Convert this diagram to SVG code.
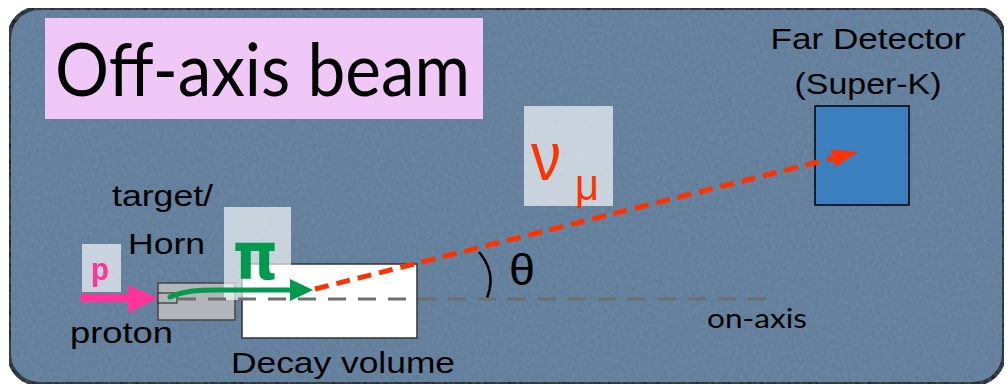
<svg xmlns="http://www.w3.org/2000/svg" width="1006" height="387" viewBox="0 0 1006 387">
<defs>
<filter id="tex" x="0" y="0" width="100%" height="100%">
<feTurbulence type="fractalNoise" baseFrequency="0.25" numOctaves="2" seed="3" result="n"/>
<feColorMatrix in="n" type="matrix" values="0 0 0 0 0.36  0 0 0 0 0.48  0 0 0 0 0.6  0 0 0 0.18 0" result="c"/>
<feComposite in="c" in2="SourceGraphic" operator="in" result="m"/>
<feMerge><feMergeNode in="SourceGraphic"/><feMergeNode in="m"/></feMerge>
</filter>
</defs>
<style>
.lbl{font-family:"Liberation Sans","DejaVu Sans",sans-serif;fill:#000;}
.gill{font-family:Lato,"Liberation Sans",sans-serif;fill:#000;}
.glass{fill:#ffffff;fill-opacity:0.65;}
</style>
<rect width="1006" height="387" fill="#ffffff"/>
<g id="frame">
<rect x="9" y="8" width="995" height="376" rx="30" ry="30" fill="#5d7a98" stroke="#000" stroke-width="4" filter="url(#tex)"/>
</g>
<g id="title">
<rect x="45" y="18" width="438" height="101" fill="#f0c8f8"/>
<text class="gill" x="55" y="96" font-size="74" textLength="415" lengthAdjust="spacingAndGlyphs">Off-axis beam</text>
</g>
<g id="far-detector">
<text class="lbl" x="868" y="49" font-size="30" text-anchor="middle" textLength="195" lengthAdjust="spacingAndGlyphs">Far Detector</text>
<text class="lbl" x="868" y="94" font-size="30" text-anchor="middle" textLength="147" lengthAdjust="spacingAndGlyphs">(Super-K)</text>
<rect x="815" y="106" width="94" height="99" fill="#3b7fbe" stroke="#000" stroke-width="1.5"/>
</g>
<g id="decay-volume">
<rect x="242" y="264" width="175" height="74" fill="#ffffff" stroke="#333" stroke-width="1.5"/>
<text class="lbl" x="231" y="373" font-size="30" textLength="224" lengthAdjust="spacingAndGlyphs">Decay volume</text>
</g>
<g id="target-horn">
<rect x="158" y="283" width="77" height="37" fill="#b2b5b9" stroke="#444" stroke-width="1.5"/>
<rect x="158" y="293" width="19" height="10" fill="#b2b5b9" stroke="#333" stroke-width="1.2"/>
<text class="lbl" x="112" y="206" font-size="29" textLength="101" lengthAdjust="spacingAndGlyphs">target/</text>
<text class="lbl" x="128" y="254" font-size="29" textLength="77" lengthAdjust="spacingAndGlyphs">Horn</text>
</g>
<g id="proton">
<rect class="glass" x="82" y="244" width="39" height="48"/>
<text x="91" y="280" font-family="Liberation Sans, sans-serif" font-weight="bold" font-size="32" fill="#ff3399" textLength="18" lengthAdjust="spacingAndGlyphs">p</text>
<text class="lbl" x="70" y="343" font-size="30" textLength="103" lengthAdjust="spacingAndGlyphs">proton</text>
</g>
<g id="pion">
<rect class="glass" x="224" y="207" width="67" height="93"/>
<text x="233" y="279" font-family="DejaVu Sans, sans-serif" font-weight="bold" font-size="66" fill="#009a4e" textLength="45" lengthAdjust="spacingAndGlyphs">π</text>
</g>
<g id="neutrino">
<rect class="glass" x="524" y="106" width="89" height="100"/>
<text x="531" y="180" font-family="Liberation Sans, sans-serif" font-size="68" fill="#ff3300" textLength="30" lengthAdjust="spacingAndGlyphs">ν</text>
<text x="575" y="200" font-family="Liberation Sans, sans-serif" font-size="44" fill="#ff3300" textLength="24" lengthAdjust="spacingAndGlyphs">μ</text>
</g>
<g id="angle">
<path d="M479,252 Q497,273 487,298" fill="none" stroke="#000" stroke-width="2.5"/>
<text class="lbl" x="509" y="285" font-size="44" textLength="26" lengthAdjust="spacingAndGlyphs">θ</text>
</g>
<g id="on-axis">
<text class="gill" x="707" y="328" font-size="27" textLength="100" lengthAdjust="spacingAndGlyphs">on-axis</text>
</g>
<g id="connectors">
<line x1="178" y1="299" x2="778" y2="299" stroke="#6e6e6e" stroke-width="3" stroke-dasharray="18 12"/>
<line x1="84" y1="298" x2="132" y2="298" stroke="#ff3399" stroke-width="8" stroke-linecap="round"/>
<polygon points="128,285 158,298 128,313" fill="#ff3399"/>
<path d="M170,297 C184,291 196,290 216,290 L293,290" fill="none" stroke="#009a4e" stroke-width="5" stroke-linecap="round"/>
<polygon points="290,279 313,290 290,301" fill="#009a4e"/>
<line x1="315" y1="289" x2="834" y2="158" stroke="#ff3300" stroke-width="5" stroke-dasharray="14 8"/>
<polygon points="858,152 835.2,167 830.8,149.6" fill="#ff3300"/>
</g>
</svg>
